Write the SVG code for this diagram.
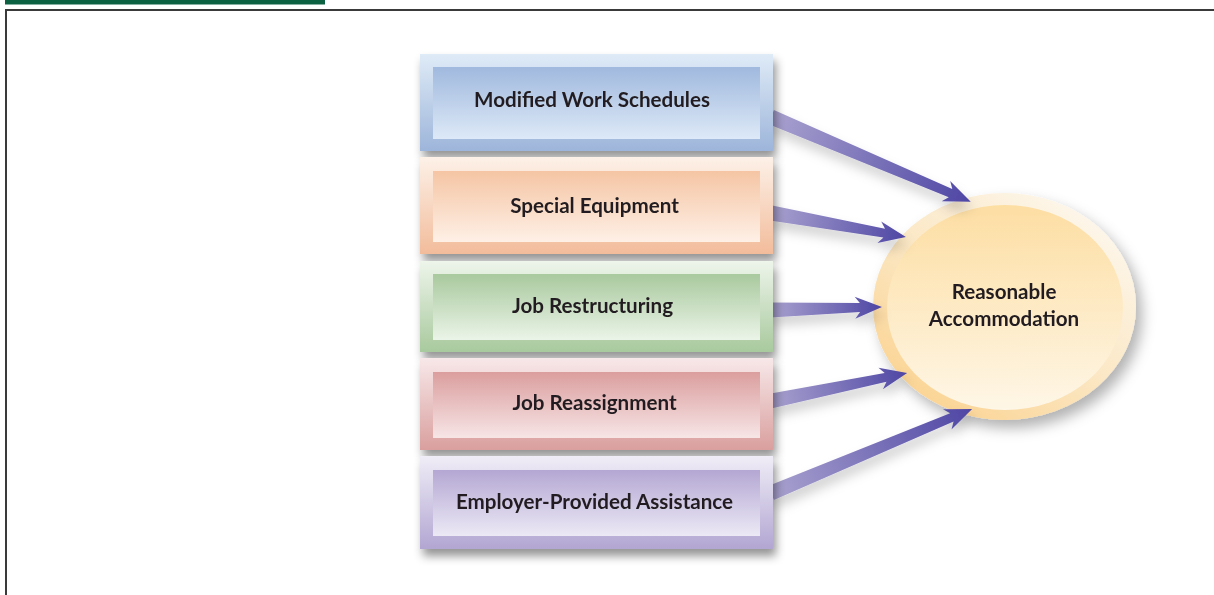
<svg xmlns="http://www.w3.org/2000/svg" width="1214" height="595" viewBox="0 0 1214 595">
<defs>
<style>
.lbl{font-family:Lato,"Open Sans","Liberation Sans",sans-serif;font-weight:bold;font-size:20.6px;fill:#231f20;text-anchor:middle}
.frame{fill:none;stroke:#3a3a3a;stroke-width:2}
.arrow{fill:url(#gArrow)}
</style>
<filter id="fBox" x="-10%" y="-20%" width="125%" height="150%">
<feGaussianBlur in="SourceAlpha" stdDeviation="5"/>
<feOffset dx="3" dy="7" result="b"/>
<feFlood flood-color="#000" flood-opacity="0.42"/>
<feComposite in2="b" operator="in"/>
<feMerge><feMergeNode/><feMergeNode in="SourceGraphic"/></feMerge>
</filter>
<filter id="fEll" x="-20%" y="-20%" width="150%" height="150%">
<feGaussianBlur in="SourceAlpha" stdDeviation="7"/>
<feOffset dx="6" dy="8" result="b"/>
<feFlood flood-color="#000" flood-opacity="0.3"/>
<feComposite in2="b" operator="in"/>
<feMerge><feMergeNode/><feMergeNode in="SourceGraphic"/></feMerge>
</filter>
<filter id="fArr" x="-10%" y="-100%" width="120%" height="300%">
<feGaussianBlur in="SourceAlpha" stdDeviation="6"/>
<feOffset dx="2" dy="8" result="b"/>
<feFlood flood-color="#000" flood-opacity="0.18"/>
<feComposite in2="b" operator="in"/>
<feMerge><feMergeNode/><feMergeNode in="SourceGraphic"/></feMerge>
</filter>
<linearGradient id="gArrow" x1="0" y1="0" x2="1" y2="0">
<stop offset="0" stop-color="#a9a2cf"/>
<stop offset="1" stop-color="#4e46a4"/>
</linearGradient>
<linearGradient id="o1" x1="0" y1="0" x2="0" y2="1"><stop offset="0" stop-color="#dfebf7"/><stop offset="1" stop-color="#9db5da"/></linearGradient>
<linearGradient id="i1" x1="0" y1="0" x2="0" y2="1"><stop offset="0" stop-color="#a0b9de"/><stop offset="1" stop-color="#dde9f7"/></linearGradient>
<linearGradient id="o2" x1="0" y1="0" x2="0" y2="1"><stop offset="0" stop-color="#fdf1e8"/><stop offset="1" stop-color="#f2bc9b"/></linearGradient>
<linearGradient id="i2" x1="0" y1="0" x2="0" y2="1"><stop offset="0" stop-color="#f5c5a4"/><stop offset="1" stop-color="#fef0e6"/></linearGradient>
<linearGradient id="o3" x1="0" y1="0" x2="0" y2="1"><stop offset="0" stop-color="#eef5eb"/><stop offset="1" stop-color="#a8c99d"/></linearGradient>
<linearGradient id="i3" x1="0" y1="0" x2="0" y2="1"><stop offset="0" stop-color="#a9c99e"/><stop offset="1" stop-color="#ebf4e8"/></linearGradient>
<linearGradient id="o4" x1="0" y1="0" x2="0" y2="1"><stop offset="0" stop-color="#f8e8e9"/><stop offset="1" stop-color="#d99f9e"/></linearGradient>
<linearGradient id="i4" x1="0" y1="0" x2="0" y2="1"><stop offset="0" stop-color="#db9e9e"/><stop offset="1" stop-color="#f7e5e6"/></linearGradient>
<linearGradient id="o5" x1="0" y1="0" x2="0" y2="1"><stop offset="0" stop-color="#f0edf7"/><stop offset="1" stop-color="#b2a6d2"/></linearGradient>
<linearGradient id="i5" x1="0" y1="0" x2="0" y2="1"><stop offset="0" stop-color="#b4a7d3"/><stop offset="1" stop-color="#ece9f5"/></linearGradient>
<linearGradient id="eo" x1="0.9" y1="0.15" x2="0.25" y2="0.95"><stop offset="0" stop-color="#fdf6ea"/><stop offset="0.5" stop-color="#fbe8c6"/><stop offset="1" stop-color="#fbd596"/></linearGradient>
<linearGradient id="ei" x1="0" y1="0" x2="0" y2="1"><stop offset="0" stop-color="#fddea3"/><stop offset="1" stop-color="#fef6e6"/></linearGradient>
</defs>
<rect width="1214" height="595" fill="#ffffff"/>
<rect x="5" y="0" width="320" height="4.5" fill="#0c6142"/>
<path class="frame" d="M6,595 V10 H1214"/>

<g id="node-reasonable-accommodation" filter="url(#fEll)">
<ellipse cx="1004.5" cy="306.5" rx="131.5" ry="113.5" fill="url(#eo)"/>
<ellipse cx="1005" cy="307.5" rx="118" ry="102.5" fill="url(#ei)"/>
<text class="lbl" x="1004" y="299">Reasonable</text>
<text class="lbl" x="1004" y="326">Accommodation</text>
</g>

<g id="connectors" filter="url(#fArr)">
<path class="arrow" transform="translate(771,117) rotate(23)" d="M0,-7.5 L195,-4.5 L190,-11 L217,0 L190,11 L195,4.5 L0,7.5 Z"/>
<path class="arrow" transform="translate(771,213) rotate(10.08)" d="M0,-7.5 L115,-4.5 L110,-11 L137,0 L110,11 L115,4.5 L0,7.5 Z"/>
<path class="arrow" transform="translate(771,310) rotate(-1.55)" d="M0,-7.5 L89,-4.5 L84,-11 L111,0 L84,11 L89,4.5 L0,7.5 Z"/>
<path class="arrow" transform="translate(771,401) rotate(-11.63)" d="M0,-7.5 L117,-4.5 L112,-11 L139,0 L112,11 L117,4.5 L0,7.5 Z"/>
<path class="arrow" transform="translate(771,493) rotate(-22.68)" d="M0,-7.5 L196,-4.5 L191,-11 L218,0 L191,11 L196,4.5 L0,7.5 Z"/>
</g>

<g id="node-modified-work-schedules" filter="url(#fBox)">
<rect x="420" y="54" width="353" height="97" fill="url(#o1)"/>
<rect x="433" y="67" width="327" height="72" fill="url(#i1)"/>
<text class="lbl" x="592" y="107">Modified Work Schedules</text>
</g>
<g id="node-special-equipment" filter="url(#fBox)">
<rect x="420" y="157" width="353" height="97" fill="url(#o2)"/>
<rect x="433" y="171" width="327" height="71" fill="url(#i2)"/>
<text class="lbl" x="594.5" y="213">Special Equipment</text>
</g>
<g id="node-job-restructuring" filter="url(#fBox)">
<rect x="420" y="261" width="353" height="91" fill="url(#o3)"/>
<rect x="433" y="274" width="327" height="66" fill="url(#i3)"/>
<text class="lbl" x="592.5" y="313">Job Restructuring</text>
</g>
<g id="node-job-reassignment" filter="url(#fBox)">
<rect x="420" y="358" width="353" height="92" fill="url(#o4)"/>
<rect x="433" y="372" width="327" height="66" fill="url(#i4)"/>
<text class="lbl" x="594.5" y="410">Job Reassignment</text>
</g>
<g id="node-employer-provided-assistance" filter="url(#fBox)">
<rect x="420" y="456" width="353" height="93" fill="url(#o5)"/>
<rect x="433" y="470" width="327" height="66" fill="url(#i5)"/>
<text class="lbl" x="594.5" y="509">Employer-Provided Assistance</text>
</g>
</svg>
